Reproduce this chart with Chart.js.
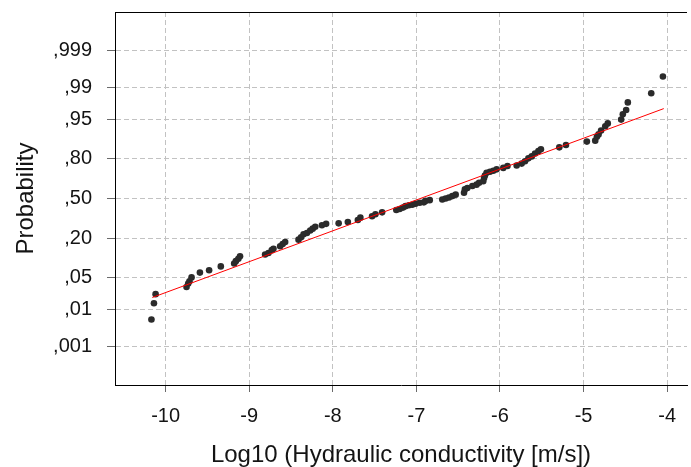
<!DOCTYPE html>
<html>
<head>
<meta charset="utf-8">
<title>Normal probability plot</title>
<script src="https://cdn.jsdelivr.net/npm/chart.js@4.4.1/dist/chart.umd.min.js"></script>
<style>
  html, body { margin: 0; padding: 0; background: #ffffff; }
  #wrap { width: 691px; height: 467px; }
</style>
</head>
<body>
<div id="wrap"><canvas id="chart" width="691" height="467"></canvas></div>
<script>
// Log10 hydraulic conductivity of each sample (m/s)
const logK = [
  -10.17, -10.14, -10.12, -9.75, -9.73, -9.715, -9.69, -9.59, -9.48, -9.34,
  -9.18, -9.16, -9.13, -9.11, -8.81, -8.77, -8.73, -8.71, -8.63, -8.60,
  -8.57, -8.41, -8.38, -8.35, -8.31, -8.27, -8.24, -8.21, -8.13, -8.08,
  -7.93, -7.82, -7.70, -7.67, -7.53, -7.49, -7.41, -7.24, -7.20, -7.16,
  -7.13, -7.09, -7.05, -7.01, -6.96, -6.91, -6.89, -6.84, -6.69, -6.65,
  -6.61, -6.57, -6.53, -6.43, -6.42, -6.39, -6.33, -6.28, -6.25, -6.20,
  -6.19, -6.18, -6.16, -6.12, -6.08, -6.04, -5.96, -5.91, -5.80, -5.74,
  -5.70, -5.66, -5.62, -5.58, -5.54, -5.51, -5.29, -5.21, -4.96, -4.86,
  -4.84, -4.82, -4.79, -4.74, -4.71, -4.55, -4.53, -4.49, -4.47, -4.19,
  -4.05
];

// Normal score (standard normal quantile) of each sample's plotting position
const normalScore = [
  -2.53, -2.19, -2.00, -1.85, -1.78, -1.73, -1.65, -1.55, -1.50, -1.42,
  -1.36, -1.31, -1.26, -1.21, -1.17, -1.14, -1.08, -1.05, -1.00, -0.95,
  -0.91, -0.86, -0.81, -0.75, -0.72, -0.67, -0.63, -0.59, -0.56, -0.53,
  -0.52, -0.49, -0.45, -0.40, -0.37, -0.33, -0.29, -0.24, -0.22, -0.19,
  -0.16, -0.14, -0.13, -0.11, -0.09, -0.08, -0.05, -0.035, -0.02, 0.00,
  0.02, 0.05, 0.08, 0.12, 0.19, 0.22, 0.26, 0.29, 0.33, 0.36,
  0.43, 0.48, 0.54, 0.56, 0.58, 0.61, 0.64, 0.68, 0.69, 0.73,
  0.78, 0.84, 0.88, 0.94, 0.99, 1.03, 1.07, 1.12, 1.19, 1.21,
  1.29, 1.34, 1.42, 1.51, 1.57, 1.65, 1.76, 1.85, 2.01, 2.20,
  2.55
];

// Fitted normal distribution, drawn between the smallest and largest sample
const fitLogK = [-10.16, -4.04];
const fitNormalScore = [-2.07, 1.88];

// Probability axis: cumulative probabilities and their labels
const probTicks = [0.001, 0.01, 0.05, 0.20, 0.50, 0.80, 0.95, 0.99, 0.999];
const probLabels = [',001', ',01', ',05', ',20', ',50', ',80', ',95', ',99', ',999'];

// Log10 axis tick values
const xTicks = [-10, -9, -8, -7, -6, -5, -4];

// Inverse standard normal CDF (Acklam's rational approximation)
function probit(p) {
  const a = [-39.69683028665376, 220.9460984245205, -275.9285104469687, 138.3577518672690, -30.66479806614716, 2.506628277459239];
  const b = [-54.47609879822406, 161.5858368580409, -155.6989798598866, 66.80131188771972, -13.28068155288572];
  const c = [-0.007784894002430293, -0.3223964580411365, -2.400758277161838, -2.549732539343734, 4.374664141464968, 2.938163982698783];
  const d = [0.007784695709041462, 0.3224671290700398, 2.445134137142996, 3.754408661907416];
  const pl = 0.02425;
  let q, r;
  if (p < pl) {
    q = Math.sqrt(-2 * Math.log(p));
    return (((((c[0]*q + c[1])*q + c[2])*q + c[3])*q + c[4])*q + c[5]) /
           ((((d[0]*q + d[1])*q + d[2])*q + d[3])*q + 1);
  }
  if (p <= 1 - pl) {
    q = p - 0.5; r = q * q;
    return (((((a[0]*r + a[1])*r + a[2])*r + a[3])*r + a[4])*r + a[5]) * q /
           (((((b[0]*r + b[1])*r + b[2])*r + b[3])*r + b[4])*r + 1);
  }
  q = Math.sqrt(-2 * Math.log(1 - p));
  return -(((((c[0]*q + c[1])*q + c[2])*q + c[3])*q + c[4])*q + c[5]) /
          ((((d[0]*q + d[1])*q + d[2])*q + d[3])*q + 1);
}

const FONT = "'Liberation Sans', Arial, sans-serif";
const TEXT = '#141414';

const samples = logK.map((x, i) => ({ x: x, y: normalScore[i] }));
const fit = fitLogK.map((x, i) => ({ x: x, y: fitNormalScore[i] }));

// White page background and the upper frame line of the plot area
const framePlugin = {
  id: 'frame',
  beforeDraw(chart) {
    const ctx = chart.ctx;
    ctx.save();
    ctx.fillStyle = '#ffffff';
    ctx.fillRect(0, 0, chart.width, chart.height);
    ctx.restore();
  },
  afterDraw(chart) {
    const { ctx, chartArea } = chart;
    const y = Math.round(chartArea.top) + 0.5;
    ctx.save();
    ctx.strokeStyle = '#000000';
    ctx.lineWidth = 1;
    ctx.beginPath();
    ctx.moveTo(Math.round(chartArea.left), y);
    ctx.lineTo(chartArea.right, y);
    ctx.stroke();
    ctx.restore();
  }
};

new Chart(document.getElementById('chart'), {
  type: 'scatter',
  data: {
    datasets: [
      {
        label: 'Normal fit',
        data: fit,
        showLine: true,
        borderColor: '#ff0000',
        borderWidth: 1,
        pointRadius: 0,
        fill: false,
        order: 0
      },
      {
        label: 'Samples',
        data: samples,
        showLine: false,
        pointRadius: 3.3,
        pointBorderWidth: 0,
        backgroundColor: '#2b2b2b',
        borderColor: '#2b2b2b',
        order: 1
      }
    ]
  },
  options: {
    responsive: false,
    devicePixelRatio: 1,
    animation: false,
    layout: { padding: { top: 12, right: 0, bottom: 0, left: 0 } },
    plugins: {
      legend: { display: false },
      tooltip: { enabled: false }
    },
    scales: {
      x: {
        type: 'linear',
        min: -10.606,
        max: -3.762,
        afterBuildTicks: s => { s.ticks = xTicks.map(v => ({ value: v })); },
        afterFit: s => { s.height = 82; s.paddingLeft = 0; s.paddingRight = 0; },
        ticks: {
          font: { family: FONT, size: 20 },
          color: TEXT,
          padding: 12,
          maxRotation: 0,
          callback: v => String(v)
        },
        grid: {
          color: '#c2c2c2',
          lineWidth: 1,
          tickColor: '#6a6a6a',
          tickLength: 7,
          tickBorderDash: []
        },
        border: { color: '#000000', width: 1, dash: [5, 3] },
        title: {
          display: true,
          text: 'Log10 (Hydraulic conductivity [m/s])',
          color: TEXT,
          font: { family: FONT, size: 24, lineHeight: 1 },
          padding: { top: 0, bottom: 0 }
        }
      },
      y: {
        type: 'linear',
        min: -3.9,
        max: 3.9,
        afterBuildTicks: s => { s.ticks = probTicks.map(p => ({ value: probit(p) })); },
        afterFit: s => { s.width = 115; s.paddingTop = 0; s.paddingBottom = 0; },
        ticks: {
          font: { family: FONT, size: 20 },
          color: TEXT,
          padding: 15,
          callback: (v, i) => probLabels[i]
        },
        grid: {
          color: '#c2c2c2',
          lineWidth: 1,
          tickColor: '#6a6a6a',
          tickLength: 8,
          tickBorderDash: []
        },
        border: { color: '#000000', width: 1, dash: [5, 3] },
        title: {
          display: true,
          text: 'Probability',
          color: TEXT,
          font: { family: FONT, size: 24, lineHeight: 1 },
          padding: { top: 14, bottom: 0 }
        }
      }
    }
  },
  plugins: [framePlugin]
});
</script>
</body>
</html>
